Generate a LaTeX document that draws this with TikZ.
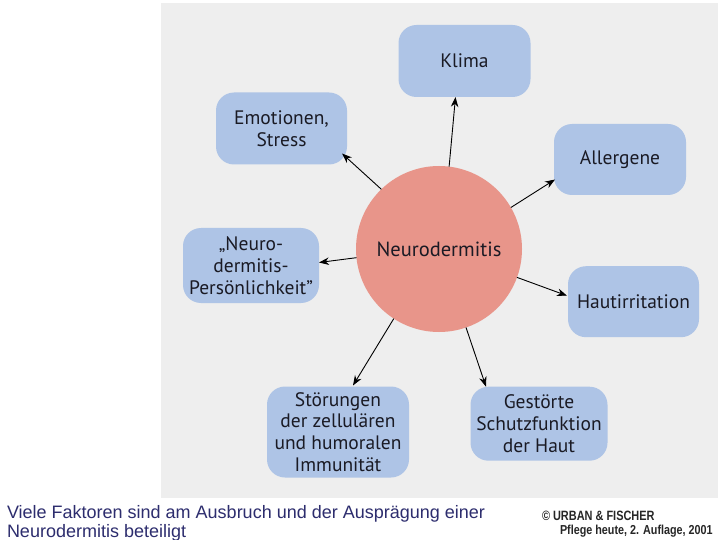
\documentclass[tikz,border=0pt]{standalone}
\usepackage{fontspec}
\setmainfont{PT Sans}
\newfontfamily\capfont{Liberation Sans}
\usetikzlibrary{arrows.meta}
\definecolor{panel}{HTML}{EEEEEE}
\definecolor{boxblue}{HTML}{AEC4E6}
\definecolor{circred}{HTML}{E8958A}
\definecolor{capblue}{RGB}{45,45,110}
\definecolor{txt}{HTML}{1A1A24}
\begin{document}
\begin{tikzpicture}[x=1pt,y=-1pt,
  box/.style={fill=boxblue, rounded corners=18pt, align=center, inner sep=0pt,
    outer sep=0pt, text=txt, font=\fontsize{19.5}{21.8}\selectfont},
  hub/.style={circle, fill=circred, minimum size=166pt, inner sep=0pt, outer sep=0pt,
    text=txt, font=\fontsize{20.5}{22}\selectfont},
  arr/.style={-{Stealth[length=10pt,width=7.5pt]}, line width=0.9pt, black},
  capt/.style={anchor=base west, inner sep=0pt, outer sep=0pt}]
\fill[white] (0,0) rectangle (720,540);
\useasboundingbox (0,0) rectangle (720,540);
\fill[panel] (161,3) rectangle (718,498);

\node[hub] (c) at (439,249) {Neurodermitis};
\node[box, minimum width=132pt, minimum height=72pt] (klima) at (464.5,61) {Klima};
\node[box, minimum width=131pt, minimum height=72pt] (emo) at (281.5,128.5) {Emotionen,\\Stress};
\node[box, minimum width=132pt, minimum height=71pt] (allerg) at (620,159.5) {Allergene};
\node[box, minimum width=136pt, minimum height=75pt] (neuro) at (251,265.5) {„Neuro-\\dermitis-\\Persönlichkeit”};
\node[box, minimum width=131pt, minimum height=71pt] (haut) at (633.5,301.7) {Hautirritation};
\node[box, minimum width=142pt, minimum height=91pt] (stoer) at (338,432) {Störungen\\der zellulären\\und humoralen\\Immunität};
\node[box, minimum width=137pt, minimum height=74pt] (gest) at (539,423.7) {Gestörte\\Schutzfunktion\\der Haut};

\draw[arr] (c.83) -- ([xshift=-9pt]klima.south);
\draw[arr] (c.134.5) -- ([xshift=-5pt,yshift=11pt]emo.south east);
\draw[arr] (c.30.6) -- ([xshift=1pt,yshift=-20pt]allerg.west);
\draw[arr] (c.186.4) -- ([yshift=3pt]neuro.east);
\draw[arr] (c.-20) -- ([xshift=-1pt,yshift=6pt]haut.west);
\draw[arr] (c.237.8) -- ([xshift=15pt,yshift=1pt]stoer.north);
\draw[arr] (c.289.2) -- ([xshift=-53pt]gest.north);

\node[capt, text=capblue, font=\capfont\fontsize{18}{19.5}\selectfont] (cap1) at (7,518.5) {Viele Faktoren sind am Ausbruch und der Ausprägung einer};
\node[capt, text=capblue, font=\capfont\fontsize{18}{19.5}\selectfont] (cap2) at (7,537) {Neurodermitis beteiligt};
\node[capt, text=black!85, font=\capfont\bfseries\fontsize{13.5}{13.5}\selectfont] (copy) at (542,520) {\scalebox{0.81}[1]{© URBAN \& FISCHER}};
\node[capt, text=black!85, font=\capfont\bfseries\fontsize{13}{13}\selectfont] (src) at (560,534) {\scalebox{0.83}[1]{Pflege heute, 2. Auflage, 2001}};
\end{tikzpicture}
\end{document}
